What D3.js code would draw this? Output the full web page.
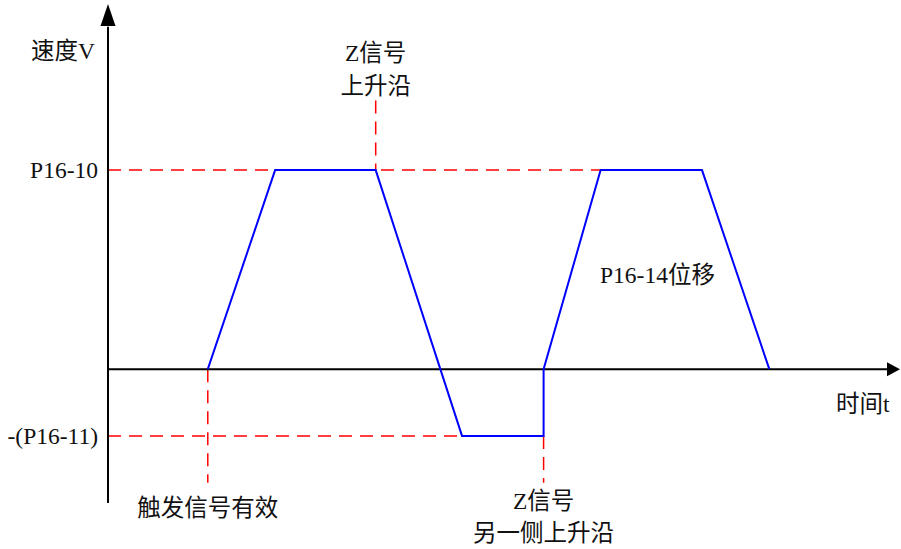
<!DOCTYPE html>
<html><head><meta charset="utf-8">
<script src="https://cdn.jsdelivr.net/npm/d3@7"></script>
<style>body{margin:0;background:#fff}svg{display:block}text{font-family:"Liberation Serif","Noto Sans CJK SC",serif;font-size:23.5px;fill:#111}</style>
</head><body><svg id="c" width="901" height="549"></svg>
<script>
// Data (abstract units)
const profileT = [1.26, 2.11, 3.38, 4.47, 5.5, 5.5, 6.22, 7.5, 8.35];
const profileV = [0, 1, 1, -0.335, -0.335, 0, 1, 1, 0];
const levelLabels = ["P16-10", "-(P16-11)"];
const levelValues = [1, -0.335];
const levelEnds = [6.22, 4.47];
const eventT = [1.26, 3.38, 5.5];
const eventLabels = [["触发信号有效"], ["Z信号", "上升沿"], ["Z信号", "另一侧上升沿"]];

const svg = d3.select("#c");
const x = d3.scaleLinear().domain([0, 10]).range([108, 900]);
const y = d3.scaleLinear().domain([-0.672, 1.834]).range([503, 4]);

// dashed reference levels
levelValues.forEach((v, i) => {
  svg.append("line").attr("x1", x(0)).attr("x2", x(levelEnds[i]))
    .attr("y1", y(v)).attr("y2", y(v))
    .attr("stroke", "#ff0000").attr("stroke-width", 1.5).attr("stroke-dasharray", "13,8");
  svg.append("text").attr("x", 98).attr("y", y(v) + 8).attr("text-anchor", "end").text(levelLabels[i]);
});

// vertical event dashed lines
const vSpans = [[0, -0.57], [1.35, 1], [-0.335, -0.57]];
eventT.forEach((t, i) => {
  svg.append("line").attr("x1", x(t)).attr("x2", x(t))
    .attr("y1", y(vSpans[i][0])).attr("y2", y(vSpans[i][1]))
    .attr("stroke", "#ff0000").attr("stroke-width", 1.5).attr("stroke-dasharray", "13,8");
});

// axes
svg.append("line").attr("x1", x(0)).attr("x2", x(0)).attr("y1", y(-0.672)).attr("y2", y(1.72))
  .attr("stroke", "#000").attr("stroke-width", 2);
svg.append("path").attr("d", `M${x(0)},${y(1.834)} L${x(0)-7.5},${y(1.834)+22} L${x(0)+7.5},${y(1.834)+22}Z`).attr("fill", "#000");
svg.append("line").attr("x1", x(0)).attr("x2", x(9.9)).attr("y1", y(0)).attr("y2", y(0))
  .attr("stroke", "#000").attr("stroke-width", 2);
svg.append("path").attr("d", `M${x(10)},${y(0)} L${x(10)-13},${y(0)-7} L${x(10)-13},${y(0)+7}Z`).attr("fill", "#000");

// velocity profile
const line = d3.line().x((d, i) => x(profileT[i])).y(d => y(d));
svg.append("path").datum(profileV).attr("d", line).attr("fill", "none")
  .attr("stroke", "#0000ff").attr("stroke-width", 2).attr("stroke-linejoin", "miter");

// labels
svg.append("text").attr("x", 31).attr("y", 59).text("速度V");
svg.append("text").attr("x", 836).attr("y", 412).text("时间t");
svg.append("text").attr("x", 600).attr("y", 283).text("P16-14位移");
const labelY = [[516], [61, 94], [509, 541]];
eventLabels.forEach((ls, i) => {
  ls.forEach((s, j) => {
    svg.append("text").attr("x", x(eventT[i])).attr("y", labelY[i][j]).attr("text-anchor", "middle").text(s);
  });
});
</script></body></html>
